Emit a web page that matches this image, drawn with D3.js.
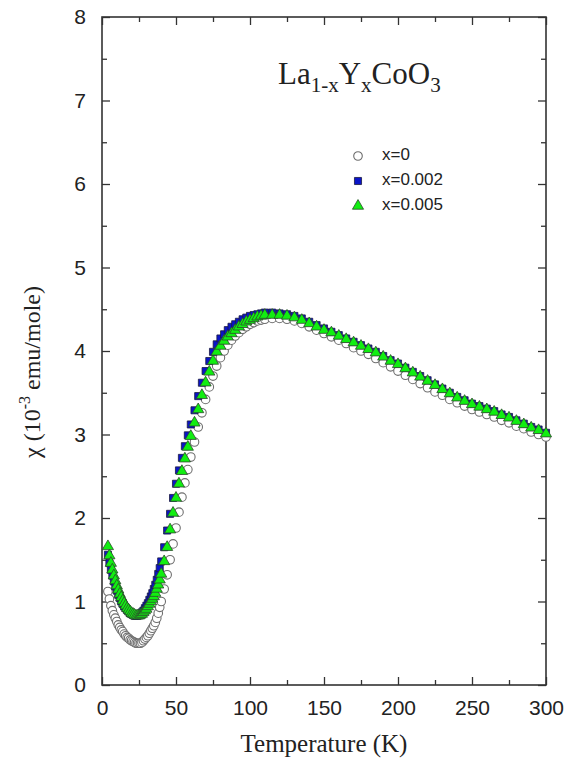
<!DOCTYPE html>
<html>
<head>
<meta charset="utf-8">
<script src="https://cdn.jsdelivr.net/npm/d3@7"></script>
<style>
  body { margin: 0; background: #fff; }
  svg { display: block; }
  .tick text { font-family: 'Liberation Sans', Arial, sans-serif; }
</style>
</head>
<body>
<div id="chart"></div>
<script>
// Temperatures (K) shared by all three samples
const temps = [4, 5, 6, 7, 8, 9, 10, 11, 12, 13, 14, 15, 16, 17, 18, 19, 20, 21, 22, 23, 24, 25, 26, 27, 28, 29, 30,
    31, 32, 33, 34, 35, 36, 37, 38, 39, 40, 42, 44, 46, 48, 50, 52, 54, 56, 58, 60,
    62.5, 65, 67.5, 70, 72.5, 75, 77.5, 80, 82.5, 85, 87.5, 90, 92.5, 95, 97.5, 100, 102.5, 105, 107.5, 110,
    115, 120, 125, 130, 135, 140, 145, 150, 155, 160, 165, 170, 175, 180, 185, 190, 195, 200,
    205, 210, 215, 220, 225, 230, 235, 240, 245, 250, 255, 260, 265, 270, 275, 280, 285, 290, 295, 300]

// chi (10^-3 emu/mole), x = 0
const chiX0 = [1.12, 1.03, 0.95, 0.89, 0.84, 0.80, 0.76, 0.72, 0.69, 0.66, 0.64, 0.61, 0.59, 0.57, 0.56, 0.54, 0.53, 0.52, 0.51, 0.50, 0.50, 0.50, 0.50, 0.51, 0.53, 0.55, 0.57,
    0.59, 0.62, 0.65, 0.68, 0.71, 0.75, 0.80, 0.86, 0.93, 1.00, 1.15, 1.32, 1.50, 1.69, 1.88, 2.07, 2.25, 2.42, 2.58, 2.73,
    2.91, 3.09, 3.26, 3.42, 3.57, 3.70, 3.82, 3.92, 4.00, 4.07, 4.13, 4.18, 4.22, 4.26, 4.29, 4.32, 4.34, 4.36, 4.37, 4.38,
    4.39, 4.39, 4.38, 4.36, 4.33, 4.29, 4.25, 4.21, 4.17, 4.13, 4.09, 4.04, 4.00, 3.96, 3.91, 3.86, 3.81, 3.76,
    3.71, 3.66, 3.61, 3.56, 3.51, 3.47, 3.42, 3.38, 3.34, 3.30, 3.27, 3.24, 3.21, 3.17, 3.14, 3.10, 3.07, 3.03, 3.00, 2.97]

// x = 0.002
const chiX002 = [1.56, 1.46, 1.38, 1.31, 1.24, 1.18, 1.13, 1.08, 1.04, 1.00, 0.97, 0.94, 0.92, 0.90, 0.88, 0.86, 0.85, 0.84, 0.83, 0.83, 0.83, 0.84, 0.85, 0.87, 0.89, 0.92, 0.95,
    0.98, 1.02, 1.06, 1.10, 1.15, 1.20, 1.26, 1.33, 1.40, 1.48, 1.65, 1.85, 2.05, 2.24, 2.41, 2.57, 2.72, 2.86, 2.99, 3.12,
    3.29, 3.46, 3.62, 3.76, 3.88, 3.99, 4.08, 4.15, 4.20, 4.25, 4.29, 4.32, 4.35, 4.38, 4.40, 4.42, 4.43, 4.44, 4.45, 4.46,
    4.46, 4.45, 4.44, 4.42, 4.39, 4.35, 4.31, 4.27, 4.23, 4.19, 4.15, 4.11, 4.07, 4.03, 3.99, 3.94, 3.89, 3.85,
    3.80, 3.75, 3.70, 3.65, 3.60, 3.55, 3.50, 3.45, 3.41, 3.37, 3.34, 3.31, 3.28, 3.24, 3.21, 3.17, 3.13, 3.09, 3.06, 3.02]

// x = 0.005
const chiX005 = [1.66, 1.55, 1.46, 1.38, 1.31, 1.25, 1.19, 1.14, 1.09, 1.05, 1.01, 0.98, 0.95, 0.92, 0.90, 0.88, 0.86, 0.85, 0.84, 0.83, 0.83, 0.83, 0.84, 0.85, 0.87, 0.89, 0.91,
    0.94, 0.97, 1.00, 1.03, 1.06, 1.10, 1.15, 1.20, 1.26, 1.33, 1.48, 1.65, 1.86, 2.06, 2.24, 2.41, 2.56, 2.71, 2.85, 2.98,
    3.14, 3.30, 3.47, 3.62, 3.75, 3.88, 3.99, 4.06, 4.12, 4.17, 4.21, 4.25, 4.29, 4.32, 4.35, 4.37, 4.39, 4.41, 4.42, 4.43,
    4.43, 4.43, 4.42, 4.40, 4.37, 4.33, 4.29, 4.25, 4.22, 4.18, 4.14, 4.10, 4.06, 4.02, 3.98, 3.93, 3.88, 3.84,
    3.79, 3.74, 3.69, 3.64, 3.59, 3.54, 3.49, 3.44, 3.40, 3.36, 3.33, 3.30, 3.27, 3.23, 3.20, 3.16, 3.12, 3.08, 3.05, 3.01]

const seriesNames = ['x=0', 'x=0.002', 'x=0.005']
const xTicks = [0, 50, 100, 150, 200, 250, 300]
const yTicks = [0, 1, 2, 3, 4, 5, 6, 7, 8]

const viewBoxWidth = 577
const viewBoxHeight = 761
const marginLeft = 102
const marginTop = 17
const width = 444
const height = 668

const svgRoot = d3.select('#chart')
    .append('svg')
    .attr('width', viewBoxWidth)
    .attr('height', viewBoxHeight)
const svg = svgRoot.append('g')
    .attr('transform', `translate(${marginLeft}, ${marginTop})`)

const x = d3.scaleLinear().domain([0, 300]).range([0, width])
const y = d3.scaleLinear().domain([0, 8]).range([height, 0])

const axisColour = '#333'
const xMinor = d3.range(0, 301, 25).filter(t => t % 50 !== 0)
const yMinor = d3.range(0.5, 8, 1)

function styleAxis(g) {
    g.select('.domain').remove()
    g.selectAll('.tick line').attr('stroke', axisColour).attr('stroke-width', 1.3)
    g.selectAll('.tick text').attr('fill', '#222').attr('font-size', '21px')
}

// bottom
svg.append('g')
    .attr('transform', `translate(0, ${height})`)
    .call(d3.axisBottom(x).tickValues(xTicks).tickSize(-8).tickPadding(15))
    .call(styleAxis)
svg.append('g')
    .attr('transform', `translate(0, ${height})`)
    .call(d3.axisBottom(x).tickValues(xMinor).tickSize(-5).tickFormat(''))
    .call(styleAxis)
// top
svg.append('g')
    .call(d3.axisTop(x).tickValues(xTicks).tickSize(-8).tickFormat(''))
    .call(styleAxis)
svg.append('g')
    .call(d3.axisTop(x).tickValues(xMinor).tickSize(-5).tickFormat(''))
    .call(styleAxis)
// left
svg.append('g')
    .call(d3.axisLeft(y).tickValues(yTicks).tickSize(-8).tickPadding(16))
    .call(styleAxis)
svg.append('g')
    .call(d3.axisLeft(y).tickValues(yMinor).tickSize(-5).tickFormat(''))
    .call(styleAxis)
// right
svg.append('g')
    .attr('transform', `translate(${width}, 0)`)
    .call(d3.axisRight(y).tickValues(yTicks).tickSize(-8).tickFormat(''))
    .call(styleAxis)
svg.append('g')
    .attr('transform', `translate(${width}, 0)`)
    .call(d3.axisRight(y).tickValues(yMinor).tickSize(-5).tickFormat(''))
    .call(styleAxis)

// frame
svg.append('rect')
    .attr('width', width)
    .attr('height', height)
    .attr('fill', 'none')
    .attr('stroke', axisColour)
    .attr('stroke-width', 1.6)

// marker shapes
const triangle = d3.symbol().type(d3.symbolTriangle).size(54)
const square = d3.symbol().type(d3.symbolSquare).size(50)
const green = '#11ee11'
const blue = '#0a14c8'

function drawCircles(g, points) {
    g.selectAll('circle')
        .data(points)
        .enter()
        .append('circle')
        .attr('cx', d => d[0])
        .attr('cy', d => d[1])
        .attr('r', 4.3)
        .attr('fill', '#fff')
        .attr('stroke', '#6e6e6e')
        .attr('stroke-width', 1.1)
}
function drawSymbols(g, points, sym, fill, stroke) {
    g.selectAll('path')
        .data(points)
        .enter()
        .append('path')
        .attr('d', sym)
        .attr('transform', d => `translate(${d[0]}, ${d[1]})`)
        .attr('fill', fill)
        .attr('stroke', stroke)
        .attr('stroke-width', 0.8)
}
const toPx = values => temps.map((t, i) => [x(t), y(values[i])])

const plot = svg.append('g').attr('id', 'plot')
drawCircles(plot.append('g'), toPx(chiX0))
drawSymbols(plot.append('g'), toPx(chiX002), square, blue, '#1a1a40')
drawSymbols(plot.append('g'), toPx(chiX005), triangle, green, '#2c4a2c')

// legend
const legendGap = 25
const legend = svg.append('g')
    .attr('transform', `translate(${358 - marginLeft}, ${156 - marginTop})`)
drawCircles(legend.append('g'), [[0, 0]])
drawSymbols(legend.append('g'), [[0, legendGap]], square, blue, '#1a1a40')
drawSymbols(legend.append('g'), [[0, legendGap * 2]], triangle, green, '#2c4a2c')
legend.selectAll('text')
    .data(seriesNames)
    .enter()
    .append('text')
    .attr('x', 24)
    .attr('y', (d, i) => i * legendGap)
    .attr('dominant-baseline', 'middle')
    .attr('font-family', "'Liberation Sans', Arial, sans-serif")
    .attr('font-size', '17px')
    .attr('fill', '#222')
    .text(d => d)

// title
const title = svgRoot.append('text')
    .attr('x', 278)
    .attr('y', 84)
    .attr('font-family', "'Liberation Serif', 'Times New Roman', serif")
    .attr('font-size', '31px')
    .attr('fill', '#222')
title.append('tspan').text('La')
title.append('tspan').attr('font-size', '21px').attr('dy', 8).text('1-x')
title.append('tspan').attr('dy', -8).text('Y')
title.append('tspan').attr('font-size', '21px').attr('dy', 8).text('x')
title.append('tspan').attr('dy', -8).text('CoO')
title.append('tspan').attr('font-size', '21px').attr('dy', 8).text('3')

// axis labels
svgRoot.append('text')
    .attr('x', marginLeft + width / 2)
    .attr('y', 752)
    .attr('text-anchor', 'middle')
    .attr('font-family', "'Liberation Serif', 'Times New Roman', serif")
    .attr('font-size', '25px')
    .attr('fill', '#222')
    .text('Temperature (K)')

const yLabel = svgRoot.append('text')
    .attr('transform', `translate(40, 372) rotate(-90)`)
    .attr('text-anchor', 'middle')
    .attr('font-family', "'Liberation Serif', 'Times New Roman', serif")
    .attr('font-size', '24px')
    .attr('fill', '#222')
yLabel.append('tspan').text('χ (10')
yLabel.append('tspan').attr('font-size', '16px').attr('dy', -10).text('-3')
yLabel.append('tspan').attr('dy', 10).text(' emu/mole)')
</script>
</body>
</html>
